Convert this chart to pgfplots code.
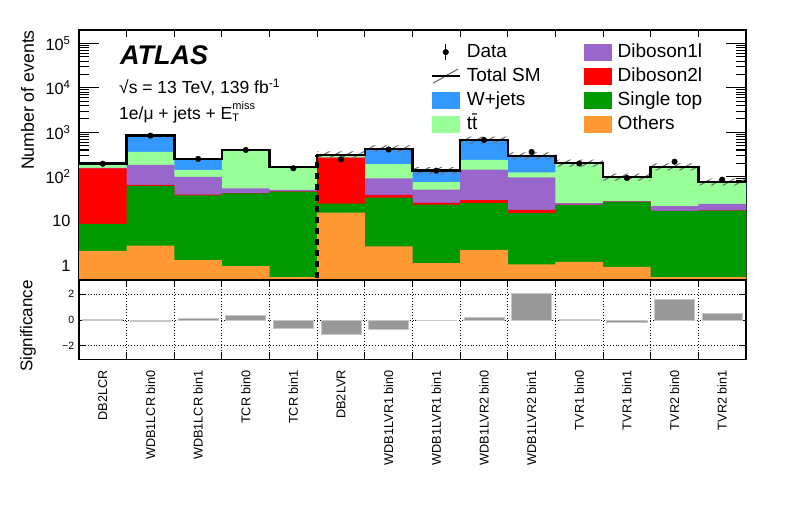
\documentclass[border=0pt]{standalone}
\usepackage{fontspec}
\setmainfont{Liberation Sans}
\usepackage{pgfplots}
\usepackage{pgfplotstable}
\pgfplotsset{compat=1.18}
\usetikzlibrary{patterns.meta}

\definecolor{cW}{RGB}{51,153,255}
\definecolor{cTT}{RGB}{153,255,153}
\definecolor{cDa}{RGB}{153,102,204}
\definecolor{cDb}{RGB}{255,0,0}
\definecolor{cST}{RGB}{0,153,0}
\definecolor{cOth}{RGB}{255,153,51}
\definecolor{cSig}{RGB}{153,153,153}
\definecolor{cHatch}{RGB}{110,110,110}

\newcommand\fs[1]{\fontsize{#1}{#1}\selectfont}

% cumulative stack tops (W = total SM)
\pgfplotstableread{
x  W     T    P     R     S     O
0  200   185  158   155   8.7   2.15
1  840   361  184   65.5  62    2.83
2  251   142  99    39.5  38    1.33
3  396   394  55    42.7  42    0.97
4  167   166  50.6  47    46.5  0.55
5  309   290  270   268   24.9  15.6
6  421   191  92    39    34    2.7
7  137   76   51    25.8  23.7  1.14
8  662   239  144   29.6  25.4  2.26
9  293   126  97    17.9  15.1  1.06
10 201   199  25.4  23.5  23    1.22
11 97.5  96   28.1  27.5  27    0.94
12 166   164  21.7  17    16.8  0.55
13 76    75   24.5  17.5  17.3  0.55
14 76    75   24.5  17.5  17.3  0.55
14 0.3   0.3  0.3   0.3   0.3   0.3
0  0.3   0.3  0.3   0.3   0.3   0.3
}\stack

\pgfplotstableread{
x    y    e
0.5  196  14
1.5  840  29
2.5  252  16
3.5  400  20
4.5  155  12.5
5.5  247  15.7
6.5  410  20
7.5  137  11.7
8.5  670  26
9.5  360  19
10.5 198  14
11.5 94   9.7
12.5 218  14.8
13.5 86   9.3
}\data

% uncertainty band outline (upper edge left to right, lower edge right to left)
\pgfplotstableread{
x   y
5   371
6   371
6   505
7   505
7   164
8   164
8   794
9   794
9   352
10  352
10  241
11  241
11  117
12  117
12  199
13  199
13  91.2
14  91.2
14  63.8
13  63.8
13  139
12  139
12  81.9
11  81.9
11  169
10  169
10  246
9   246
9   556
8   556
8   115
7   115
7   354
6   354
6   260
5   260
}\band

\pgfplotstableread{
x    s
0.5  0.05
1.5  -0.10
2.5  0.12
3.5  0.38
4.5  -0.64
5.5  -1.08
6.5  -0.69
7.5  -0.05
8.5  0.18
9.5  2.05
10.5 0.05
11.5 -0.18
12.5 1.62
13.5 0.49
}\sig

\begin{document}
\begin{tikzpicture}[x=1pt,y=1pt]
\path[use as bounding box] (0pt,0pt) rectangle (789pt,509pt);

\begin{axis}[
  at={(79pt,230pt)}, anchor=south west,
  width=667pt, height=249pt, scale only axis,
  xmin=0, xmax=14, ymin=0.5, ymax=2e5, ymode=log,
  axis line style={line width=1.5pt},
  xtick={0,...,14}, xticklabels={},
  xtick style={line width=1.1pt, black, /pgfplots/major tick length=7pt},
  ytick={1,10,100,1000,10000,100000},
  yticklabels={1,10,10\textsuperscript{2},10\textsuperscript{3},10\textsuperscript{4},10\textsuperscript{5}},
  minor ytick={0.5,0.6,0.7,0.8,0.9,2,3,4,5,6,7,8,9,20,30,40,50,60,70,80,90,200,300,400,500,600,700,800,900,2000,3000,4000,5000,6000,7000,8000,9000,20000,30000,40000,50000,60000,70000,80000,90000},
  ytick style={line width=1.1pt, black, /pgfplots/major tick length=20pt, /pgfplots/minor tick length=10pt},
  yticklabel style={font=\fs{16.3}, inner sep=0pt, xshift=-8.3pt},
  legend columns=2,
  legend cell align=left,
  legend style={at={(0.5225,0.956)}, anchor=north west, draw=none, fill=none,
    font=\fs{19}, row sep=6pt, column sep=6pt,
    nodes={inner sep=0pt, text height=14pt, text depth=4pt},
    /tikz/every even column/.append style={column sep=43pt}},
]
% stack (cumulative, top first)
\addplot[forget plot, const plot, draw=none, fill=cW]   table[x=x,y=W]{\stack};
\addplot[forget plot, const plot, draw=none, fill=cTT]  table[x=x,y=T]{\stack};
\addplot[forget plot, const plot, draw=none, fill=cDa]  table[x=x,y=P]{\stack};
\addplot[forget plot, const plot, draw=none, fill=cDb]  table[x=x,y=R]{\stack};
\addplot[forget plot, const plot, draw=none, fill=cST]  table[x=x,y=S]{\stack};
\addplot[forget plot, const plot, draw=none, fill=cOth] table[x=x,y=O]{\stack};
% uncertainty band
\addplot[forget plot, draw=none, pattern={Lines[angle=30,distance=5.8pt,line width=1.1pt]}, pattern color=cHatch] table[x=x,y=y]{\band};
% total SM line
\addplot[forget plot, const plot, black, line width=2.5pt, skip coords between index={15}{17}] table[x=x,y=W]{\stack};
% CR / VR separator
\addplot[forget plot, black, line width=3.5pt, dash pattern=on 6pt off 5pt] coordinates {(5,0.3) (5,309)};
% data
\addplot[forget plot, only marks, mark=*, mark size=2.8pt, black,
  error bars/.cd, y dir=both, y explicit, error mark=none, error bar style={line width=1pt}]
  table[x=x,y=y,y error=e]{\data};

% legend
\addlegendimage{legend image code/.code={\draw[black,line width=1pt] (13.8pt,-8pt)--(13.8pt,8pt); \fill[black] (13.8pt,0pt) circle (2.8pt);}}
\addlegendentry{Data}
\addlegendimage{legend image code/.code={\fill[cDa] (0pt,-8pt) rectangle (27.6pt,8pt);}}
\addlegendentry{Diboson1l}
\addlegendimage{legend image code/.code={\draw[cHatch,line width=1.1pt] (1pt,-7pt)--(12pt,-1pt) (15pt,1pt)--(26pt,7pt); \draw[black,line width=2.5pt] (0pt,0pt)--(27.6pt,0pt); \fill[white,opacity=0] (0pt,-8pt) rectangle (27.6pt,8pt);}}
\addlegendentry{Total SM}
\addlegendimage{legend image code/.code={\fill[cDb] (0pt,-8pt) rectangle (27.6pt,8pt);}}
\addlegendentry{Diboson2l}
\addlegendimage{legend image code/.code={\fill[cW] (0pt,-8pt) rectangle (27.6pt,8pt);}}
\addlegendentry{W+jets}
\addlegendimage{legend image code/.code={\fill[cST] (0pt,-8pt) rectangle (27.6pt,8pt);}}
\addlegendentry{Single top}
\addlegendimage{legend image code/.code={\fill[cTT] (0pt,-8pt) rectangle (27.6pt,8pt);}}
\addlegendentry{t\={t}}
\addlegendimage{legend image code/.code={\fill[cOth] (0pt,-8pt) rectangle (27.6pt,8pt);}}
\addlegendentry{Others}
\end{axis}

\begin{axis}[
  at={(79pt,149.5pt)}, anchor=south west,
  width=667pt, height=79.5pt, scale only axis,
  xmin=0, xmax=14, ymin=-3.05, ymax=3.1,
  axis line style={line width=1.5pt},
  xtick={0,...,14}, xticklabels={},
  ytick={-2,0,2}, yticklabels={−2,0,2},
  tick style={line width=1.1pt, black},
  major tick length=7.5pt,
  xmajorgrids, ymajorgrids,
  major grid style={black, line width=0.9pt, dotted},
  yticklabel style={font=\fs{10.5}, inner sep=0pt, xshift=-4.7pt},
  extra x ticks={0.5,1.5,2.5,3.5,4.5,5.5,6.5,7.5,8.5,9.5,10.5,11.5,12.5,13.5},
  extra x tick labels={DB2LCR,WDB1LCR bin0,WDB1LCR bin1,TCR bin0,TCR bin1,DB2LVR,WDB1LVR1 bin0,WDB1LVR1 bin1,WDB1LVR2 bin0,WDB1LVR2 bin1,TVR1 bin0,TVR1 bin1,TVR2 bin0,TVR2 bin1},
  extra x tick style={major tick length=0pt, grid=none},
  xticklabel style={rotate=90, anchor=east, inner sep=0pt, font=\fs{12.7}, xshift=-10.5pt},
]
\addplot[ybar, bar width=0.84, fill=cSig, draw=gray!45, line width=0.8pt] table[x=x,y=s]{\sig};
\end{axis}

% texts
\node[anchor=base west, inner sep=0pt, font=\fs{27}\bfseries\itshape] at (120pt,444pt) {ATLAS};
\node[anchor=base west, inner sep=0pt, font=\fs{17.5}] at (119pt,415pt) {√s = 13 TeV, 139 fb\textsuperscript{-1}};
\node[anchor=base west, inner sep=0pt, font=\fs{17.5}] at (119pt,389pt) {1e/μ + jets + E\rlap{\raisebox{10.5pt}{\fs{11}miss}}\raisebox{-1.5pt}{\fs{11}T}};
\node[rotate=90, anchor=east, inner sep=0pt, font=\fs{17.7}] at (27.5pt,479pt) {Number of events};
\node[rotate=90, anchor=center, inner sep=0pt, font=\fs{17}] at (28pt,183pt) {Significance};
\end{tikzpicture}
\end{document}
